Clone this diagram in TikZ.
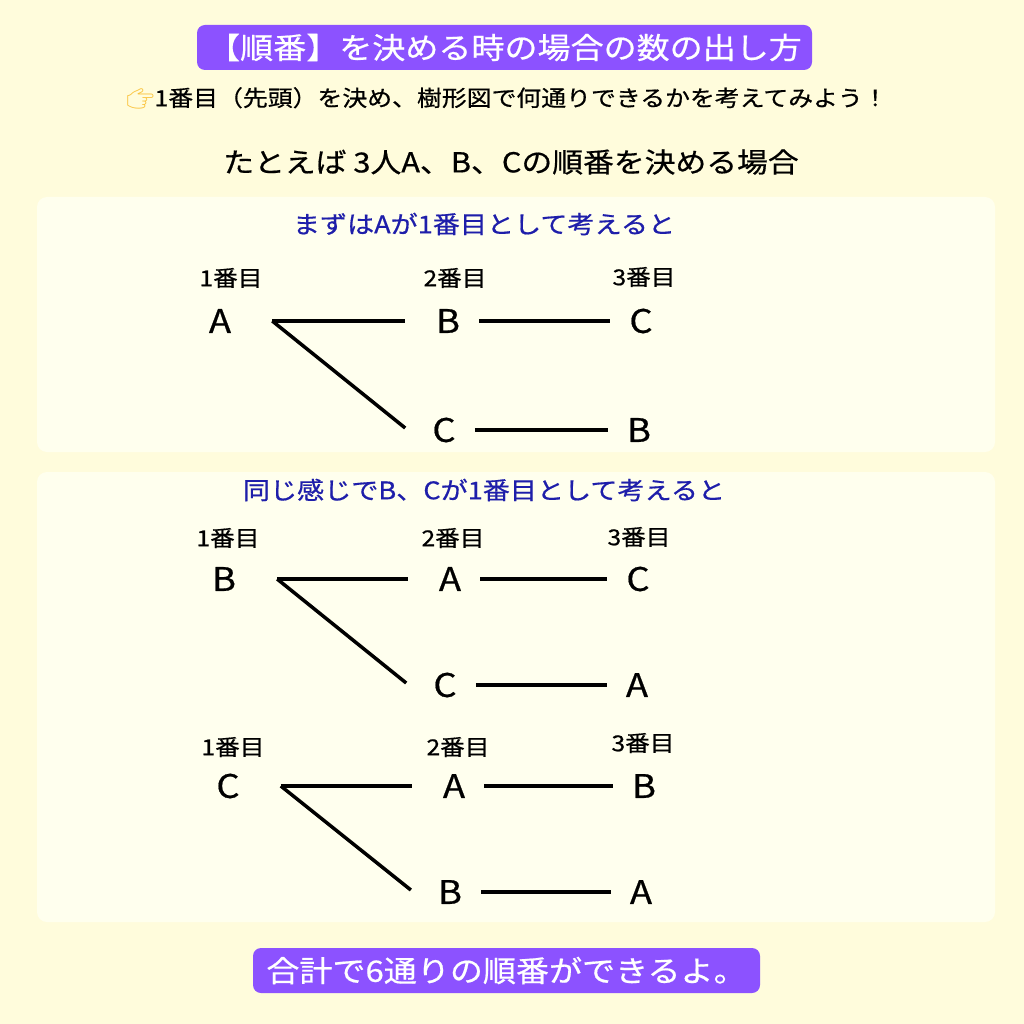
\documentclass[tikz,border=0pt]{standalone}
\usepackage{fontspec}
\setmainfont[FakeStretch=1.12, FakeBold=0.6]{Noto Sans CJK JP}
\newfontfamily\emojifont{Noto Emoji}
\usetikzlibrary{calc,positioning}

\definecolor{bgyellow}{RGB}{255,252,220}
\definecolor{panelyellow}{RGB}{255,255,238}
\definecolor{headpurple}{RGB}{140,82,255}
\definecolor{noteblue}{RGB}{30,30,170}
\definecolor{handyellow}{RGB}{250,195,60}

\begin{document}
\begin{tikzpicture}[
  x=1pt, y=-1pt,
  banner/.style={rectangle, rounded corners=8pt, fill=headpurple, text=white, inner sep=0pt, text centered},
  panel/.style={rounded corners=10pt, fill=panelyellow},
  note/.style={text=noteblue, font=\fontsize{24.2}{27}\selectfont, inner sep=0pt},
  rank/.style={font=\fontsize{22}{24}\selectfont, inner sep=0pt},
  letter/.style={font=\fontsize{32.5}{35}\selectfont, inner xsep=19pt, inner ysep=0pt},
  link/.style={line width=3.5pt}
]
  \useasboundingbox (0,0) rectangle (1024,1024);
  \fill[bgyellow] (0,0) rectangle (1024,1024);

  % header
  \node[banner, minimum width=615pt, minimum height=45pt, font=\fontsize{29.5}{32}\selectfont] (title) at (504.5,47.5) {【順番】を決める時の場合の数の出し方};
  \node[inner sep=0pt, font=\fontsize{22.2}{25}\selectfont] (hint) at (507,98) {{\emojifont\color{handyellow}👉}1番目（先頭）を決め、樹形図で何通りできるかを考えてみよう！};
  \node[inner sep=0pt, font=\fontsize{27.5}{30}\selectfont] (example) at (511,162) {たとえば 3人A、B、Cの順番を決める場合};

  % panels
  \fill[panel] (37,197) rectangle (995,452);
  \fill[panel] (37,472) rectangle (995,922);

  % first tree: A first
  \node[note] (firstnote) at (484,224) {まずはAが1番目として考えると};
  \node[rank] (ra1) at (231,278) {1番目};
  \node[rank] (ra2) at (455,278) {2番目};
  \node[rank] (ra3) at (644,277) {3番目};
  \node[letter] (a1) at (220,321) {A};
  \node[letter] (a2) at (448,321) {B};
  \node[letter] (a3) at (641,321) {C};
  \node[letter] (a4) at (444,430) {C};
  \node[letter] (a5) at (639,430) {B};

  \draw[link] ([xshift=22pt]a1.east) -- ([xshift=-12pt]a2.west);
  \draw[link] ([xshift=22pt]a1.east) -- ([xshift=-8pt,yshift=2pt]a4.west);
  \draw[link] (a2.east) -- (a3.west);
  \draw[link] (a4.east) -- (a5.west);

  % second tree: B first
  \node[note] (secondnote) at (484,490) {同じ感じでB、Cが1番目として考えると};
  \node[rank] (rb1) at (228,538) {1番目};
  \node[rank] (rb2) at (453,538) {2番目};
  \node[rank] (rb3) at (639,537) {3番目};
  \node[letter] (b1) at (224,579) {B};
  \node[letter] (b2) at (450,579) {A};
  \node[letter] (b3) at (638,579) {C};
  \node[letter] (b4) at (445,685) {C};
  \node[letter] (b5) at (637,685) {A};

  \draw[link] ([xshift=22pt]b1.east) -- ([xshift=-12pt]b2.west);
  \draw[link] ([xshift=22pt]b1.east) -- ([xshift=-8pt,yshift=2pt]b4.west);
  \draw[link] (b2.east) -- (b3.west);
  \draw[link] (b4.east) -- (b5.west);

  % third tree: C first
  \node[rank] (rc1) at (233,747) {1番目};
  \node[rank] (rc2) at (458,747) {2番目};
  \node[rank] (rc3) at (643,743) {3番目};
  \node[letter] (c1) at (228,786) {C};
  \node[letter] (c2) at (454,786) {A};
  \node[letter] (c3) at (644,786) {B};
  \node[letter] (c4) at (450,892) {B};
  \node[letter] (c5) at (641,892) {A};

  \draw[link] ([xshift=22pt]c1.east) -- ([xshift=-12pt]c2.west);
  \draw[link] ([xshift=22pt]c1.east) -- ([xshift=-8pt,yshift=2pt]c4.west);
  \draw[link] (c2.east) -- (c3.west);
  \draw[link] (c4.east) -- (c5.west);

  % footer
  \node[banner, minimum width=507pt, minimum height=45pt, font=\fontsize{29.5}{32}\selectfont] (total) at (506.5,970.5) {合計で6通りの順番ができるよ。};
\end{tikzpicture}
\end{document}
